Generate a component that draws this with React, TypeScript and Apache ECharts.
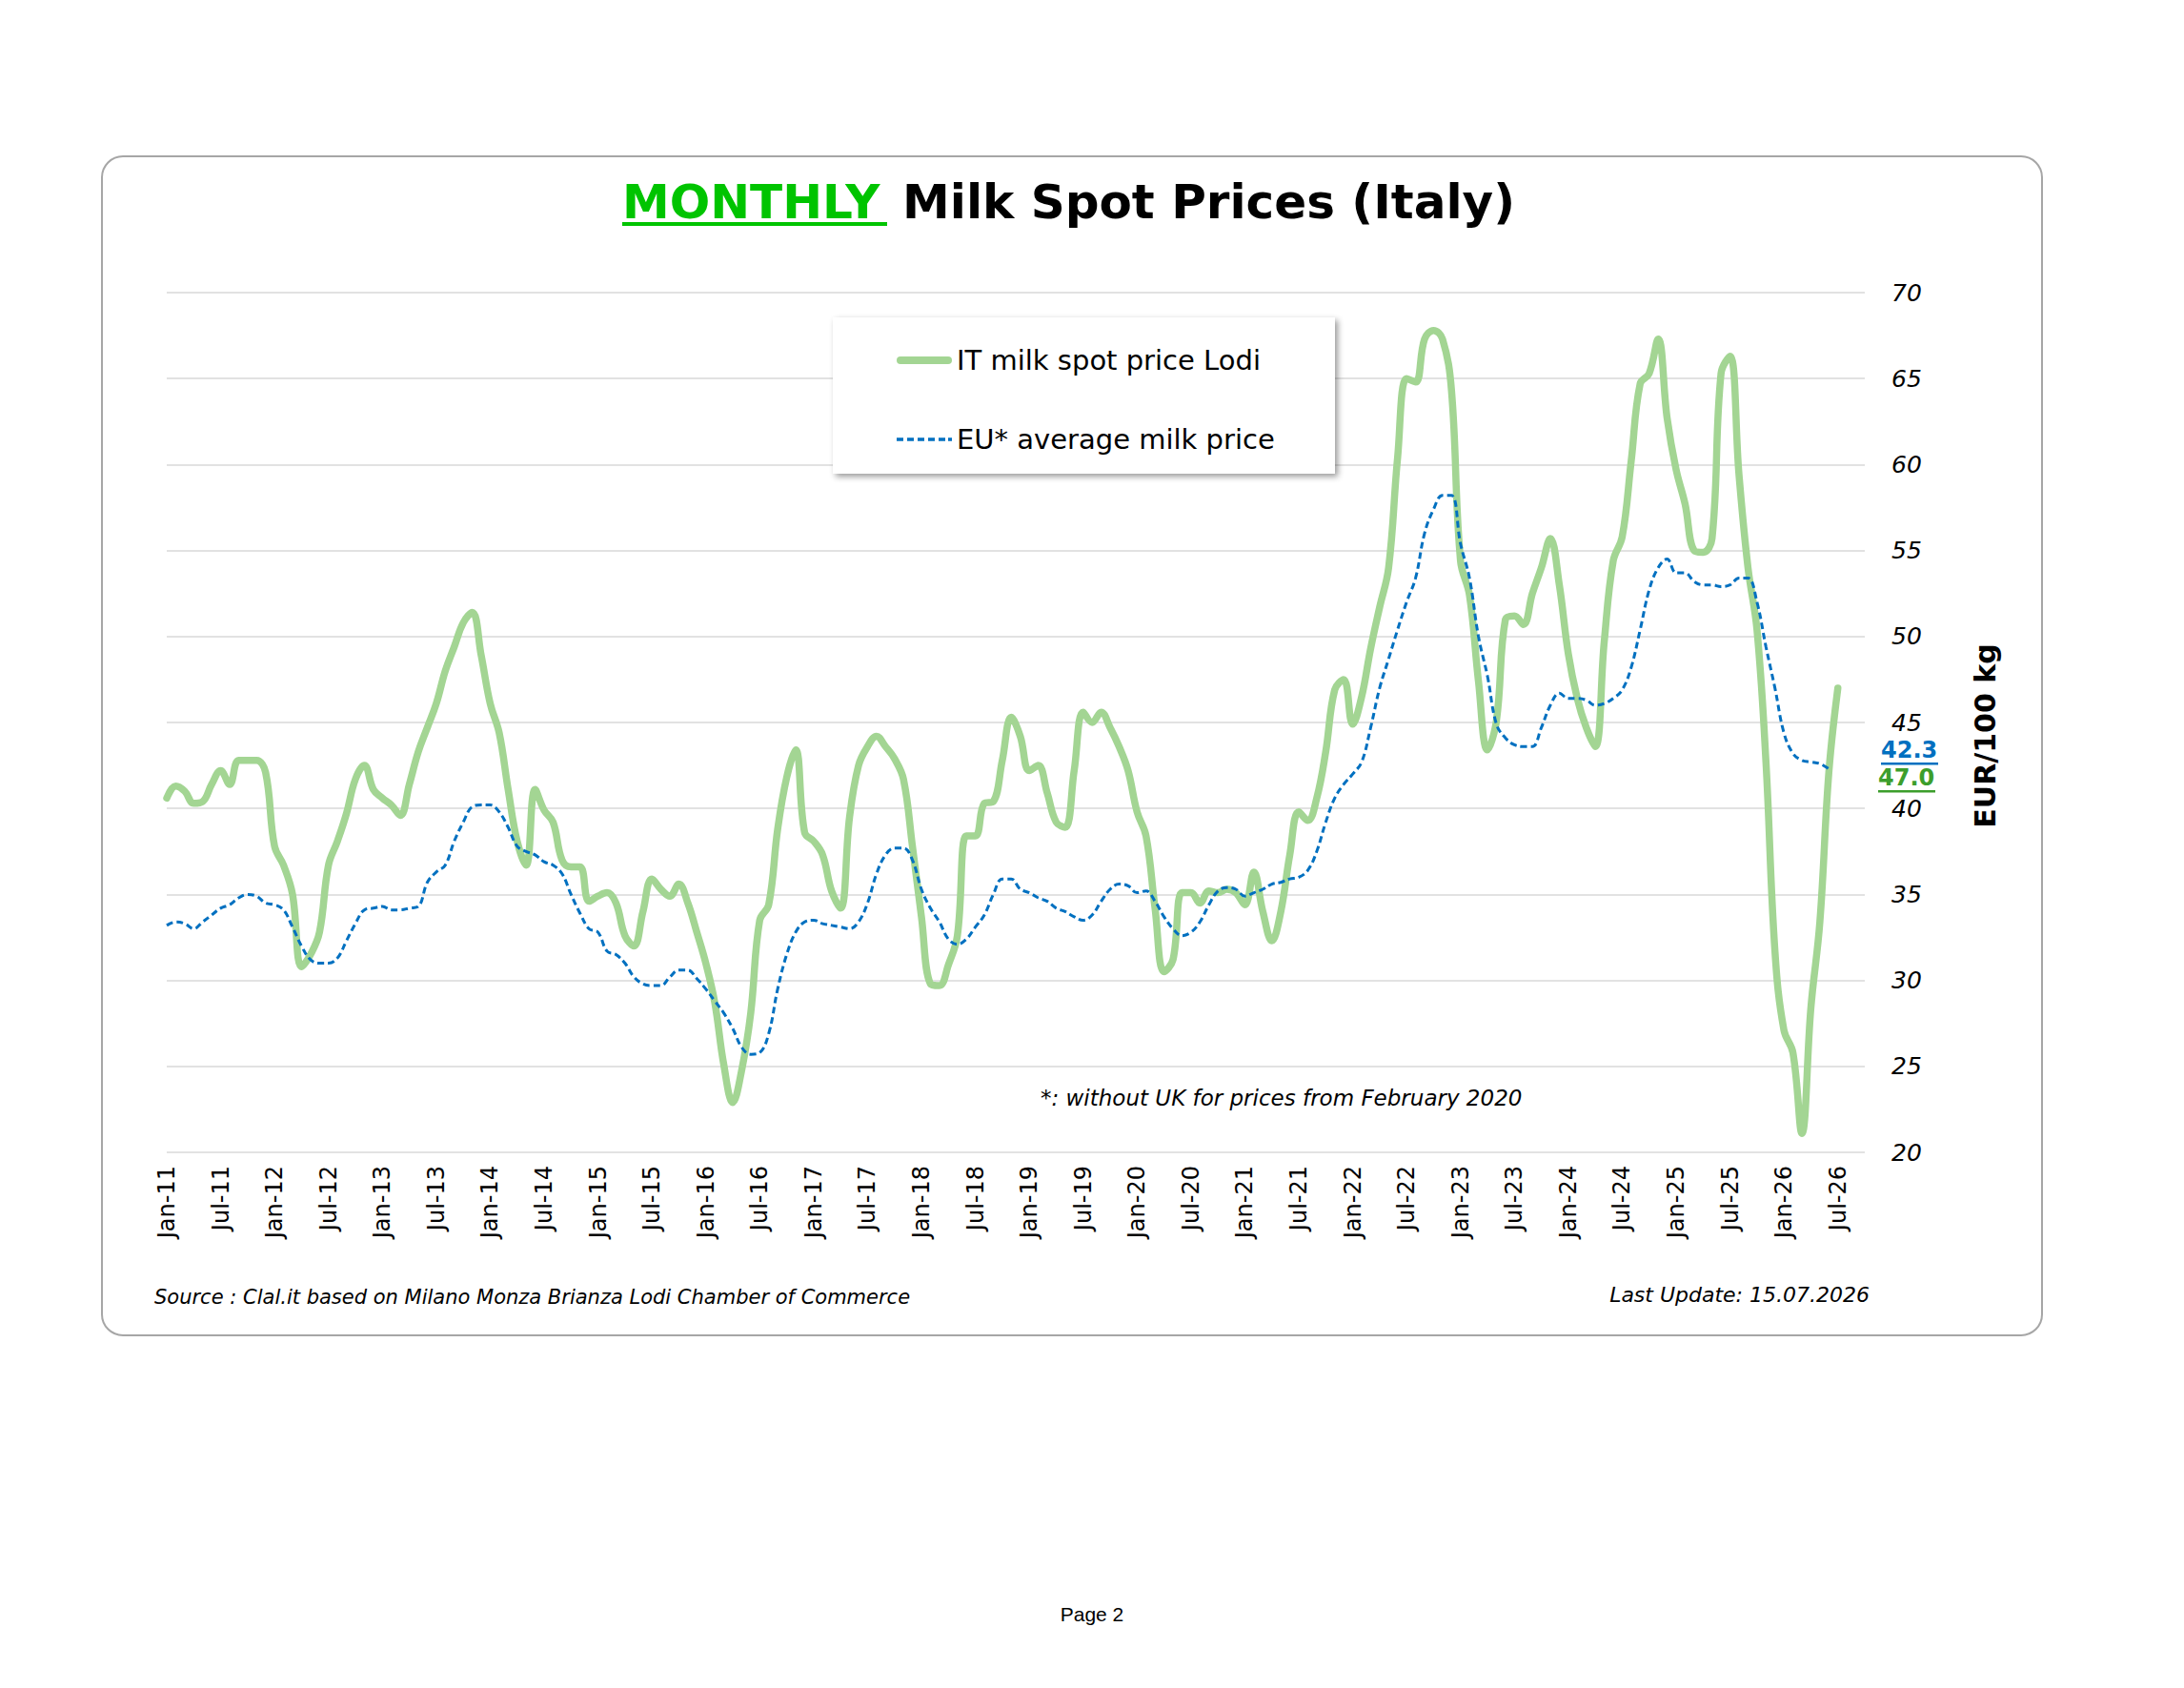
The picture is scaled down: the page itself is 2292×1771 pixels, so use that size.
import React, { useEffect, useRef } from "react";
import * as echarts from "echarts";

const MONTH_NAMES = ["Jan", "Feb", "Mar", "Apr", "May", "Jun", "Jul", "Aug", "Sep", "Oct", "Nov", "Dec"];
const START_YEAR = 2011;
const AXIS_MONTHS = 190; // Jan-11 .. Oct-26 (axis extends past last data point)
const categories: string[] = [];
for (let i = 0; i < AXIS_MONTHS; i++) {
  const y = START_YEAR + Math.floor(i / 12);
  categories.push(MONTH_NAMES[i % 12] + "-" + String(y).slice(2));
}

// IT milk spot price Lodi (EUR/100 kg), monthly from Jan-11
const itSpot = [
  40.6, 41.3, 41.0, 40.3, 40.4, 41.4, 42.2, 41.4, 42.8, 42.8, 42.8, 42.1,
  37.8, 36.7, 35.0, 30.8, 31.5, 32.8, 36.7, 38.1, 39.7, 41.7, 42.5, 41.1,
  40.6, 40.2, 39.6, 41.4, 43.3, 44.7, 46.1, 48.0, 49.4, 50.8, 51.4, 48.9,
  46.1, 44.4, 41.1, 38.1, 36.7, 41.1, 39.9, 39.2, 37.0, 36.6, 36.6, 34.6,
  34.9, 35.1, 34.5, 32.6, 32.0, 34.0, 35.9, 35.3, 34.9, 35.6, 34.5, 32.8,
  31.0, 28.7, 25.1, 22.9, 24.8, 28.1, 33.5, 34.4, 38.8, 41.8, 43.4, 38.6,
  38.1, 37.3, 35.2, 34.2, 39.5, 42.5, 43.6, 44.2, 43.6, 42.9, 41.7, 37.8,
  33.7, 29.8, 29.7, 30.9, 32.6, 38.4, 38.4, 40.3, 40.4, 42.8, 45.3, 44.2,
  42.2, 42.5, 40.9, 39.2, 38.9, 42.2, 45.6, 45.0, 45.6, 44.7, 43.6, 42.2,
  39.8, 38.4, 34.2, 30.5, 31.2, 35.1, 35.1, 34.5, 35.2, 35.1, 35.3, 35.1,
  34.4, 36.3, 34.0, 32.3, 34.0, 37.3, 39.8, 39.3, 40.6, 43.3, 46.9, 47.5,
  44.9, 46.5, 49.3, 51.7, 54.0, 60.4, 65.0, 64.8, 67.3, 67.8, 67.3, 64.3,
  54.4, 52.4, 47.4, 43.4, 45.1, 51.0, 51.2, 50.7, 52.5, 54.0, 55.7, 53.0,
  49.0, 46.4, 44.7, 43.6, 49.7, 54.4, 55.8, 60.2, 64.7, 65.3, 67.3, 62.7,
  59.7, 57.7, 55.0, 54.9, 55.7, 65.3, 66.3, 59.4, 54.0, 50.4, 42.7, 31.7,
  27.1, 25.8, 21.1, 28.4, 33.4, 42.1, 47.0,
];

// EU* average milk price (EUR/100 kg), monthly from Jan-11
const euAvg = [
  33.2, 33.4, 33.3, 33.0, 33.4, 33.8, 34.2, 34.4, 34.8, 35.0, 34.9, 34.5,
  34.4, 34.1, 33.1, 32.0, 31.2, 31.0, 31.0, 31.3, 32.3, 33.3, 34.1, 34.2,
  34.3, 34.1, 34.1, 34.2, 34.3, 35.7, 36.3, 36.7, 38.1, 39.2, 40.1, 40.2,
  40.2, 39.8, 38.9, 37.8, 37.5, 37.3, 36.9, 36.7, 36.2, 35.0, 33.9, 33.0,
  32.8, 31.7, 31.5, 31.0, 30.2, 29.8, 29.7, 29.7, 30.2, 30.6, 30.6, 30.1,
  29.5, 28.8, 28.1, 27.2, 26.1, 25.7, 25.8, 26.9, 29.5, 31.5, 32.8, 33.4,
  33.5, 33.3, 33.2, 33.1, 33.0, 33.4, 34.5, 36.2, 37.3, 37.7, 37.7, 37.0,
  35.3, 34.2, 33.4, 32.4, 32.1, 32.4, 33.1, 33.8, 35.0, 35.9, 35.9, 35.3,
  35.1, 34.8, 34.6, 34.2, 34.0, 33.7, 33.5, 33.8, 34.6, 35.3, 35.6, 35.5,
  35.1, 35.2, 34.6, 33.7, 33.0, 32.6, 32.8, 33.4, 34.4, 35.2, 35.4, 35.3,
  34.9, 35.1, 35.3, 35.6, 35.7, 35.9, 36.0, 36.4, 37.5, 39.2, 40.6, 41.4,
  42.0, 42.7, 44.7, 47.0, 48.7, 50.4, 52.0, 53.4, 56.0, 57.4, 58.2, 58.2,
  55.4, 53.4, 50.0, 47.7, 44.9, 44.1, 43.7, 43.6, 43.6, 44.7, 46.0, 46.7,
  46.4, 46.4, 46.3, 46.0, 46.1, 46.4, 46.9, 48.2, 50.4, 52.7, 54.0, 54.5,
  53.7, 53.7, 53.2, 53.0, 53.0, 52.9, 53.0, 53.4, 53.4, 52.0, 49.4, 47.0,
  44.4, 43.2, 42.8, 42.7, 42.6, 42.3,
];

const Y_MIN = 20;
const Y_MAX = 70;
const Y_STEP = 5;

const SERIES_IT = "IT milk spot price Lodi";
const SERIES_EU = "EU* average milk price";

const GREEN_LINE = "#A3D593";
const BLUE_LINE = "#0070C0";
const GREEN_TEXT = "#3C9E2C";
const FONT = "DejaVu Sans";

const ICON_SOLID = "path://M4,0L54,0A4,4,0,0,1,54,8L4,8A4,4,0,0,1,4,0Z";
const ICON_DASHED =
  "path://M0,0h7v3.5h-7z M11,0h7v3.5h-7z M22,0h7v3.5h-7z M33,0h7v3.5h-7z M44,0h7v3.5h-7z M54,0h4v3.5h-4z";

export default function App() {
  const ref = useRef<HTMLDivElement>(null);

  useEffect(() => {
    if (!ref.current) return;
    const chart = echarts.init(ref.current, undefined, { renderer: "svg" });
    const lastEu = euAvg[euAvg.length - 1].toFixed(1);
    const lastIt = itSpot[itSpot.length - 1].toFixed(1);

    const option: any = {
      animation: false,
      backgroundColor: "#ffffff",
      grid: { left: 175, top: 307, width: 1782, height: 902, containLabel: false },
      legend: {
        orient: "vertical",
        left: 936,
        top: 356,
        z: 6,
        itemWidth: 58,
        itemHeight: 14,
        itemGap: 49,
        selectedMode: false,
        data: [
          { name: SERIES_IT, icon: ICON_SOLID },
          { name: SERIES_EU, icon: ICON_DASHED },
        ],
        textStyle: { fontFamily: FONT, fontSize: 29, color: "#000", lineHeight: 34 },
      },
      xAxis: {
        type: "category",
        data: categories,
        boundaryGap: false,
        axisLine: { show: false },
        axisTick: { show: false },
        splitLine: { show: false },
        axisLabel: {
          interval: 5,
          rotate: 90,
          margin: 14,
          fontFamily: FONT,
          fontSize: 24,
          color: "#000",
        },
      },
      yAxis: {
        type: "value",
        position: "right",
        min: Y_MIN,
        max: Y_MAX,
        interval: Y_STEP,
        axisLine: { show: false },
        axisTick: { show: false },
        splitLine: { show: true, lineStyle: { color: "#d9d9d9", width: 1.5 } },
        axisLabel: {
          margin: 28,
          fontFamily: FONT,
          fontStyle: "italic",
          fontSize: 25,
          color: "#000",
        },
      },
      series: [
        {
          name: SERIES_IT,
          type: "line",
          data: itSpot,
          smooth: 0.4,
          symbol: "none",
          showSymbol: false,
          z: 2,
          itemStyle: { color: GREEN_LINE },
          lineStyle: { color: GREEN_LINE, width: 7.5, cap: "round", join: "round" },
        },
        {
          name: SERIES_EU,
          type: "line",
          data: euAvg,
          smooth: 0.4,
          symbol: "none",
          showSymbol: false,
          z: 3,
          itemStyle: { color: BLUE_LINE },
          lineStyle: { color: BLUE_LINE, width: 3, type: [7, 4] },
        },
      ],
      graphic: [
        {
          type: "rect",
          z: 0,
          silent: true,
          shape: { x: 107, y: 164, width: 2036, height: 1237, r: 22 },
          style: { fill: "none", stroke: "#a6a6a6", lineWidth: 2 },
        },
        {
          type: "text",
          z: 5,
          x: 653,
          y: 212,
          style: {
            text: "MONTHLY",
            fill: "#00C400",
            font: "bold 50px " + FONT,
            textAlign: "left",
            textVerticalAlign: "middle",
          },
        },
        {
          type: "rect",
          z: 5,
          shape: { x: 653, y: 233, width: 278, height: 4 },
          style: { fill: "#00C400" },
        },
        {
          type: "text",
          z: 5,
          x: 947,
          y: 212,
          style: {
            text: "Milk Spot Prices (Italy)",
            fill: "#000",
            font: "bold 50px " + FONT,
            textAlign: "left",
            textVerticalAlign: "middle",
          },
        },
        {
          type: "rect",
          z: 4,
          silent: true,
          shape: { x: 874, y: 333, width: 527, height: 164 },
          style: {
            fill: "#ffffff",
            shadowBlur: 6,
            shadowColor: "rgba(0,0,0,0.4)",
            shadowOffsetX: 3,
            shadowOffsetY: 3,
          },
        },
        {
          type: "text",
          z: 5,
          x: 2083,
          y: 772,
          rotation: Math.PI / 2,
          style: {
            text: "EUR/100 kg",
            fill: "#000",
            font: "bold 30px " + FONT,
            textAlign: "center",
            textVerticalAlign: "middle",
          },
        },
        {
          type: "text",
          z: 5,
          x: 1974,
          y: 787,
          style: {
            text: lastEu,
            fill: BLUE_LINE,
            font: "bold 24px " + FONT,
            textAlign: "left",
            textVerticalAlign: "middle",
          },
        },
        {
          type: "rect",
          z: 5,
          shape: { x: 1974, y: 800, width: 60, height: 2.5 },
          style: { fill: BLUE_LINE },
        },
        {
          type: "text",
          z: 5,
          x: 1971,
          y: 816,
          style: {
            text: lastIt,
            fill: GREEN_TEXT,
            font: "bold 24px " + FONT,
            textAlign: "left",
            textVerticalAlign: "middle",
          },
        },
        {
          type: "rect",
          z: 5,
          shape: { x: 1971, y: 829, width: 60, height: 2.5 },
          style: { fill: GREEN_TEXT },
        },
        {
          type: "text",
          z: 5,
          x: 1092,
          y: 1152,
          style: {
            text: "*: without UK for prices from February 2020",
            fill: "#000",
            font: "italic 23px " + FONT,
            textAlign: "left",
            textVerticalAlign: "middle",
          },
        },
        {
          type: "text",
          z: 5,
          x: 162,
          y: 1361,
          style: {
            text: "Source : Clal.it based on Milano Monza Brianza Lodi Chamber of Commerce",
            fill: "#000",
            font: "italic 21px " + FONT,
            textAlign: "left",
            textVerticalAlign: "middle",
          },
        },
        {
          type: "text",
          z: 5,
          x: 1962,
          y: 1358,
          style: {
            text: "Last Update: 15.07.2026",
            fill: "#000",
            font: "italic 22px " + FONT,
            textAlign: "right",
            textVerticalAlign: "middle",
          },
        },
        {
          type: "text",
          z: 5,
          x: 1146,
          y: 1693,
          style: {
            text: "Page 2",
            fill: "#000",
            font: "21px Liberation Sans",
            textAlign: "center",
            textVerticalAlign: "middle",
          },
        },
      ],
    };

    chart.setOption(option);
    return () => {
      chart.dispose();
    };
  }, []);

  return (
    <div
      ref={ref}
      style={{ position: "fixed", left: 0, top: 0, width: 2292, height: 1771, background: "#fff" }}
    />
  );
}
